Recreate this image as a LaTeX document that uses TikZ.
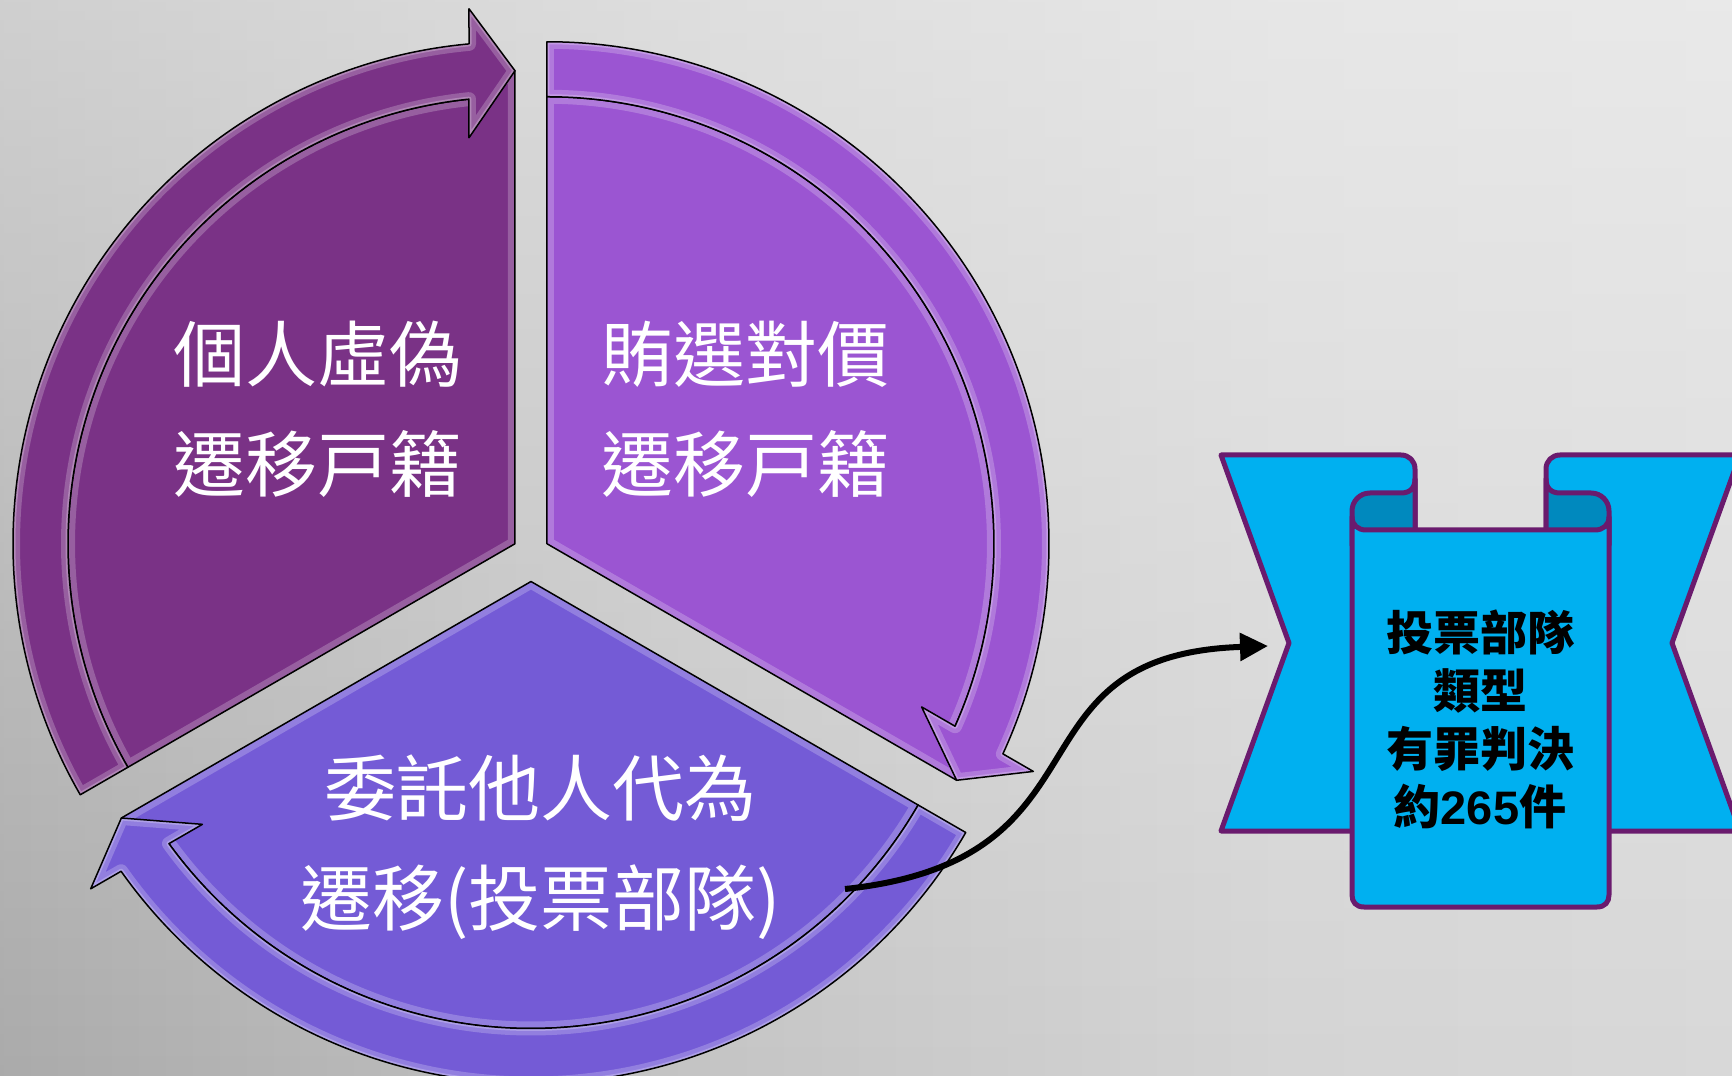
\documentclass[tikz,border=0pt]{standalone}
\usepackage{fontspec}
\newfontfamily\cjk{Noto Sans CJK TC}
\newfontfamily\lat{Liberation Sans}
\usetikzlibrary{arrows.meta,fadings}
\definecolor{segA}{RGB}{122,50,134}
\definecolor{segB}{RGB}{155,85,210}
\definecolor{segC}{RGB}{116,91,214}
\definecolor{ribfill}{RGB}{0,176,240}
\definecolor{ribdark}{RGB}{0,137,190}
\definecolor{ribline}{RGB}{106,27,110}
\definecolor{bgA}{RGB}{170,170,170}
\definecolor{bgB}{RGB}{196,196,196}
\definecolor{bgC}{RGB}{212,212,212}
\definecolor{bgD}{RGB}{216,216,216}
\pgfdeclarehorizontalshading{bgshade}{100bp}{color(0bp)=(bgA); color(25bp)=(bgA); color(45bp)=(bgB); color(62bp)=(bgC); color(75bp)=(bgD); color(100bp)=(bgD)}
% one segment, drawn in its own frame: apex at origin, spans 90..210 degrees
\newcommand\wedgepath{(0,0) -- (0,473) -- (-46,444.6) arc[start angle=95.907, end angle=210, radius=447] -- cycle}
\newcommand\ringpath{(210:502) arc[start angle=210, end angle=95.258, radius=502] -- (-46,535) -- (0,473) -- (-46,406) -- (-46,444.6) arc[start angle=95.907, end angle=210, radius=447] -- cycle}
\newcommand\drawseg[3]{%
  \begin{scope}[shift={#1}, rotate=#2]
    \fill[#3] \wedgepath;
    \begin{scope}\clip \wedgepath; \draw[glowline] \wedgepath; \end{scope}
    \draw[segedge] \wedgepath;
    \fill[#3] \ringpath;
    \begin{scope}\clip \ringpath; \draw[glowline] \ringpath; \draw[glowthin] \ringpath; \end{scope}
    \draw[segedge] \ringpath;
  \end{scope}}
\begin{document}
\begin{tikzpicture}[x=1pt,y=1pt,
  segedge/.style={black, line width=1.5pt, line join=round},
  glowline/.style={white, opacity=.22, line width=14pt, line join=round},
  glowthin/.style={white, opacity=.25, line width=5pt, line join=round},
  segtext/.style={text=white, font=\cjk\fontsize{72}{110}\selectfont, align=center, inner sep=0pt},
  ribbon/.style={fill=ribfill, draw=ribline, line width=5pt, line join=round},
  rolldark/.style={fill=ribdark, draw=ribline, line width=5pt, line join=round},
  conn/.style={black, line width=6pt, -{Triangle[length=28pt, width=27pt]}},
  bantext/.style={text=black, font=\cjk\bfseries\fontsize{47}{58}\selectfont, align=center, inner sep=0pt}]
\useasboundingbox (-531,-523) rectangle (1201,553);
% background
\shade[shading=bgshade] (-541,-533) rectangle (1211,563);
\fill[white, opacity=.45, path fading=south] (-541,-533) rectangle (1211,573);
% cycle segments
\drawseg{(-16,9.24)}{0}{segA}
\drawseg{(16,9.24)}{-120}{segB}
\drawseg{(0,-28.5)}{120}{segC}
% texts
\node[segtext] (tA) at (-213,144) {個人虛偽\\遷移戸籍};
\node[segtext] (tB) at (214.6,144) {賄選對價\\遷移戸籍};
\node[segtext] (tC) at (10,-294) {委託他人代為\\遷移(投票部隊)};
% ribbon banner (image coordinates)
\begin{scope}[shift={(-531,553)}, yscale=-1]
  \path[ribbon] (1221,455) -- (1401,455) .. controls (1409,455) and (1415,461) .. (1415,469) -- (1415,831) -- (1221,831) -- (1289,643) -- cycle;
  \path[ribbon] (1740,455) -- (1560,455) .. controls (1552,455) and (1546,461) .. (1546,469) -- (1546,831) -- (1740,831) -- (1672,643) -- cycle;
  \path[rolldark] (1415,545) -- (1415,479) .. controls (1415,488) and (1410,493) .. (1401,493) -- (1370,493) .. controls (1360,493) and (1352,501) .. (1352,511) -- (1352,545) -- cycle;
  \path[rolldark] (1546,545) -- (1546,479) .. controls (1546,488) and (1551,493) .. (1560,493) -- (1591,493) .. controls (1601,493) and (1609,501) .. (1609,511) -- (1609,545) -- cycle;
  \path[ribbon] (1352,895) -- (1352,517) .. controls (1352,525) and (1358,530) .. (1366,530) -- (1595,530) .. controls (1603,530) and (1609,525) .. (1609,517) -- (1609,895) .. controls (1609,902) and (1605,907) .. (1597,907) -- (1364,907) .. controls (1356,907) and (1352,902) .. (1352,895) -- cycle;
  \node[bantext] (bt) at (1480,719) {投票部隊\\類型\\有罪判決\\約{\lat\bfseries 265}件};
  \coordinate (cstart) at (845,889);
  \coordinate (lnk) at (1268,646);
  \draw[conn] (cstart) .. controls (1120,860) and (1000,655) .. (lnk);
\end{scope}
\end{tikzpicture}
\end{document}
